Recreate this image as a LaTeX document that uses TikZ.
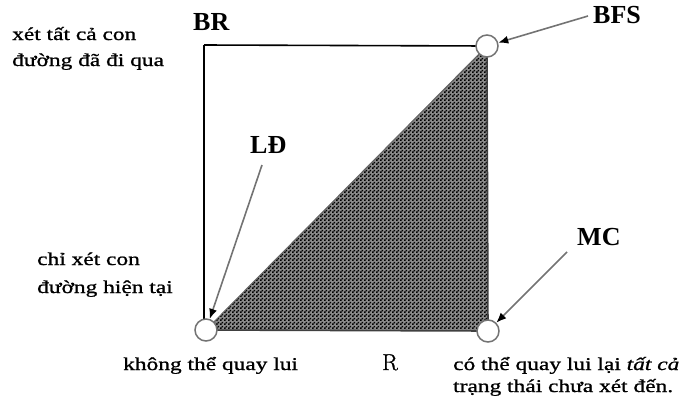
\documentclass[tikz,border=0pt]{standalone}
\usepackage{fontspec}
\newfontfamily\vn[FakeStretch=1.3,FakeBold=1]{Liberation Serif}
\newfontfamily\lab{Liberation Serif}
\newfontfamily\lmr[FakeBold=1.2]{Latin Modern Roman}
\usetikzlibrary{arrows.meta,patterns}
\pgfdeclarepatternformonly{finechecker}{\pgfqpoint{0pt}{0pt}}{\pgfqpoint{4pt}{4pt}}{\pgfqpoint{4pt}{4pt}}{%
  \pgfpathrectangle{\pgfqpoint{0pt}{0pt}}{\pgfqpoint{2pt}{2pt}}%
  \pgfpathrectangle{\pgfqpoint{2pt}{2pt}}{\pgfqpoint{2pt}{2pt}}%
  \pgfusepath{fill}}
\tikzset{
  txt/.style={font=\vn\fontsize{18}{22}\selectfont, inner sep=0pt, anchor=base west},
  lbl/.style={font=\lab\bfseries\fontsize{26}{30}\selectfont, inner sep=0pt, anchor=base west},
  stnode/.style={circle, draw=black!55, line width=1.5pt, fill=white, minimum size=22pt, inner sep=0pt},
  boxline/.style={line width=1.6pt, black},
  pointer/.style={draw=black!55, line width=1.6pt, -{Latex[color=black,length=10pt,width=8pt]}},
}
\begin{document}
\begin{tikzpicture}[x=1pt,y=-1pt]
\useasboundingbox (0,0) rectangle (679,416);
\coordinate (pbl) at (206,330);
\coordinate (ptr) at (487,46);
\coordinate (pbr) at (488,331);
\coordinate (corner) at (204,45);
% shaded triangle
\fill[black!45] (pbl) -- (ptr) -- (pbr) -- cycle;
\path[pattern=finechecker, pattern color=black] (pbl) -- (ptr) -- (pbr) -- cycle;
\draw[black!60, line width=1.2pt] (pbl) -- (ptr);
\draw[black!75, line width=1.6pt] (ptr) -- (pbr) -- (pbl);
% box lines
\draw[boxline] (corner) -- (ptr);
\draw[boxline] (corner) -- (corner |- pbl);
% circles
\node[stnode] (tr) at (ptr) {};
\node[stnode] (bl) at (pbl) {};
\node[stnode] (br) at (pbr) {};
% labels
\node[lbl] (brl) at (193,30) {BR};
\node[lbl] (bfs) at (593,23) {BFS};
\node[lbl] (ld) at (250,153) {LĐ};
\node[lbl] (mc) at (577,245) {MC};
\node[inner sep=0pt, anchor=base west, font=\lmr\fontsize{23}{26}\selectfont] (r) at (382,370) {R};
% pointers
\coordinate (bfstail) at (588,16);
\coordinate (ldtail) at (262,165);
\coordinate (mctail) at (567,252);
\draw[pointer] (bfstail) -- (tr);
\draw[pointer] (ldtail) -- (bl);
\draw[pointer] (mctail) -- (br);
% texts
\node[txt] (t1a) at (12,40) {xét tất cả con};
\node[txt] (t1b) at (12,66) {đường đã đi qua};
\node[txt] (t2a) at (37,265) {ch^^^^1ec9 xét con};
\node[txt] (t2b) at (37,293) {đường hiện tại};
\node[txt] (t3) at (123,370) {không thể quay lui};
\node[txt] (t4a) at (453,370) {có thể quay lui lại \textit{tất cả}};
\node[txt] (t4b) at (453,392) {trạng thái chưa xét đến.};
\end{tikzpicture}
\end{document}
